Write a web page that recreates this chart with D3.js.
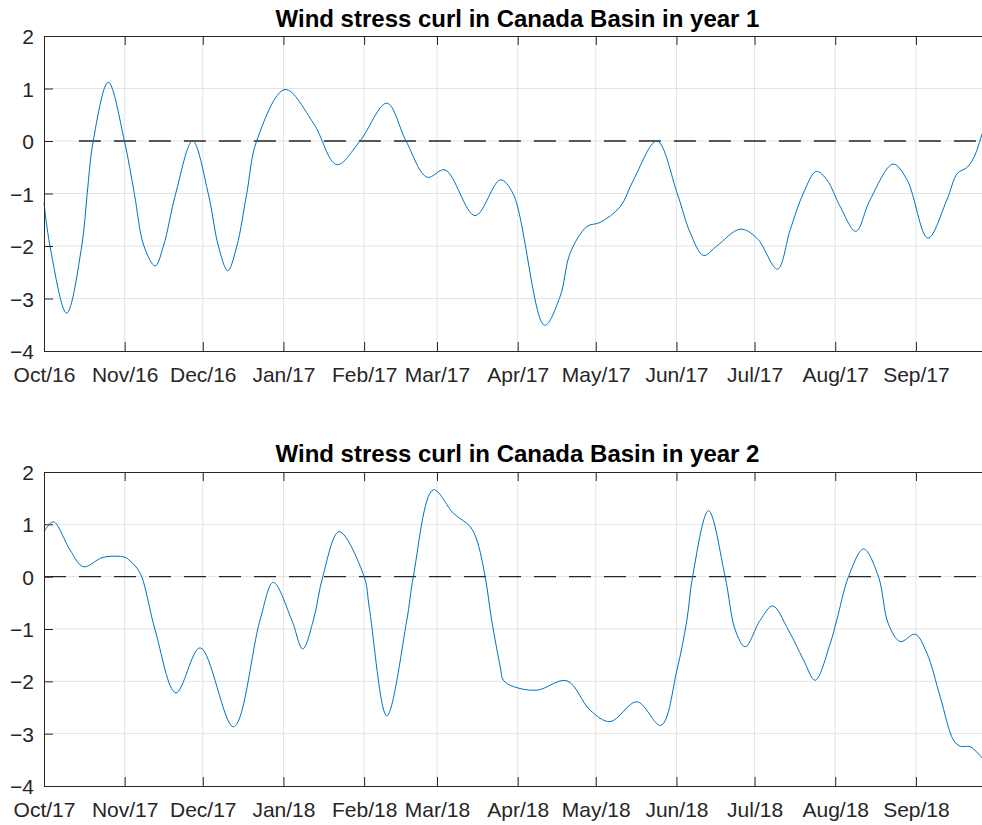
<!DOCTYPE html>
<html>
<head>
<meta charset="utf-8">
<script src="https://cdn.jsdelivr.net/npm/d3@7"></script>
<style>
  html, body { margin: 0; padding: 0; background: #fff; }
  svg { display: block; }
  text { font-family: "Liberation Sans", Arial, Helvetica, sans-serif; }
</style>
</head>
<body>
<svg id="chart" width="982" height="825"></svg>
<script>
// ---------------- DATA ----------------
const titles = ["Wind stress curl in Canada Basin in year 1", "Wind stress curl in Canada Basin in year 2"];
const yearStarts = ["2016-10-01", "2017-10-01"];
const yTicks = [-4, -3, -2, -1, 0, 1, 2];

// day offsets from the 1 October start of each year, and curl values
const days1 = [0, 2.3, 8.7, 14.5, 16.6, 18.9, 24.7, 30.9, 34.7, 38.4, 42.7, 45.9, 50.6, 57.1, 63.1, 67.0, 70.6, 74.1, 77.9, 81.7,
  92.6, 103.5, 112.5, 121.4, 131.7, 139.1, 147.2, 154.1, 165.6, 175.3, 180.2, 192.3, 198.3, 202.2,
  208.6, 213.7, 221.4, 226.5, 235.5, 243.3, 248.3, 253.4, 258.5, 267.5, 273.9, 281.8, 286.7, 291.8,
  296.7, 300.8, 305.9, 311.9, 317.4, 326.2, 331.6, 339.6, 346.9, 350.9, 354.7, 357.4, 360.5];
const curl1 = [-1.18, -2.0, -3.28, -2.0, -1.0, 0.0, 1.12, 0.0, -1.0, -2.0, -2.38, -2.0, -1.0, 0.0, -1.0, -2.0, -2.47, -2.0, -1.0, 0.0,
  0.98, 0.34, -0.45, 0.0, 0.72, 0.0, -0.69, -0.55, -1.42, -0.74, -1.0, -3.51, -2.96, -2.13,
  -1.63, -1.55, -1.25, -0.74, 0.0, -1.0, -1.75, -2.18, -2.0, -1.68, -1.85, -2.44, -1.69, -0.99,
  -0.58, -0.74, -1.25, -1.72, -1.12, -0.44, -0.74, -1.85, -1.12, -0.62, -0.5, -0.3, 0.15];

const days2 = [0, 3.6, 10.0, 15.1, 22.8, 31.1, 33.1, 36.9, 42.7, 50.7, 60.0, 72.8, 83.0, 88.1, 95.2,
  99.4, 103.5, 107.1, 113.4, 123.0, 125.0, 131.7, 139.4, 141.9, 149.6, 157.3, 163.7, 166.3, 169.5,
  172.0, 175.3, 176.5, 180.4, 189.3, 200.9, 209.8, 217.5, 227.8, 237.0, 243.2, 247.0, 249.2, 255.3,
  261.7, 265.6, 269.4, 275.2, 280.0, 286.0, 291.8, 296.3, 302.1, 304.6, 309.1, 314.9, 320.6, 324.4,
  329.0, 334.7, 339.2, 344.3, 349.4, 352.0, 355.9, 360.5];
const curl2 = [0.86, 1.05, 0.51, 0.19, 0.37, 0.37, 0.3, 0.07, -1.02, -2.22, -1.36, -2.87, -0.83, -0.11, -0.83,
  -1.38, -0.83, 0.0, 0.86, 0.0, -0.6, -2.66, -0.83, 0.0, 1.66, 1.21, 0.96, 0.70, 0.0,
  -0.83, -1.72, -1.98, -2.10, -2.17, -1.99, -2.55, -2.77, -2.39, -2.84, -1.78, -0.83, 0.0, 1.26,
  0.0, -1.02, -1.34, -0.83, -0.56, -1.02, -1.59, -1.98, -1.27, -0.83, 0.0, 0.53, 0.0, -0.9,
  -1.24, -1.10, -1.46, -2.29, -3.12, -3.24, -3.25, -3.47];

// dashed zero reference line start (day offset)
const zeroStart = [13.4, 0];

// ---------------- LAYOUT ----------------
const panels = [
  { top: 36, bottom: 351, titleY: 26.5, days: days1, vals: curl1 },
  { top: 472, bottom: 786, titleY: 462, days: days2, vals: curl2 }
];
const left = 44, right = 994;
const svg = d3.select("#chart");
svg.append("rect").attr("width", 982).attr("height", 825).attr("fill", "#fff");

const axisColor = "#262626";
const gridColor = "#e3e3e3";
const fmt = d3.utcFormat("%b/%y");

panels.forEach((p, i) => {
  const start = d3.utcParse("%Y-%m-%d")(yearStarts[i]);
  const end = d3.utcYear.offset(start, 1);
  const x = d3.scaleUtc().domain([start, end]).range([left, right]);
  const y = d3.scaleLinear().domain([-4, 2]).range([p.bottom, p.top]);
  const months = d3.utcMonth.range(start, end);
  const g = svg.append("g");

  // grid
  g.append("g").selectAll("line").data(months.slice(1)).join("line")
    .attr("x1", d => x(d)).attr("x2", d => x(d))
    .attr("y1", p.top).attr("y2", p.bottom)
    .attr("stroke", gridColor).attr("stroke-width", 1);
  g.append("g").selectAll("line").data(yTicks.slice(1, -1)).join("line")
    .attr("x1", left).attr("x2", right)
    .attr("y1", d => y(d)).attr("y2", d => y(d))
    .attr("stroke", gridColor).attr("stroke-width", 1);

  // zero dashed line
  const zx0 = x(new Date(start.getTime() + zeroStart[i] * 864e5));
  g.append("line")
    .attr("x1", zx0).attr("x2", right)
    .attr("y1", y(0)).attr("y2", y(0))
    .attr("stroke", axisColor).attr("stroke-width", 1.3)
    .attr("stroke-dasharray", "22,13");

  // data line
  const pts = p.days.map((d, k) => [new Date(start.getTime() + d * 864e5), p.vals[k]]);
  const line = d3.line().x(d => x(d[0])).y(d => y(d[1])).curve(d3.curveCatmullRom.alpha(0.5));
  g.append("path").datum(pts)
    .attr("d", line)
    .attr("fill", "none").attr("stroke", "#0072BD").attr("stroke-width", 1);

  // axes
  const xb = d3.axisBottom(x).tickValues(months).tickFormat(fmt).tickSizeInner(-9).tickSizeOuter(0).tickPadding(16);
  const gx = g.append("g").attr("transform", `translate(0,${p.bottom})`).call(xb);
  const xt = d3.axisTop(x).tickValues(months).tickFormat("").tickSizeInner(-9).tickSizeOuter(0);
  const gxt = g.append("g").attr("transform", `translate(0,${p.top})`).call(xt);
  const yl = d3.axisLeft(y).tickValues(yTicks).tickFormat(d3.format("d")).tickSizeInner(-9).tickSizeOuter(0).tickPadding(10);
  const gy = g.append("g").attr("transform", `translate(${left},0)`).call(yl);

  [gx, gxt, gy].forEach(a => {
    a.select(".domain").attr("stroke", axisColor).attr("stroke-width", 1);
    a.selectAll(".tick line").attr("stroke", axisColor).attr("stroke-width", 1);
    a.selectAll("text").attr("fill", axisColor).style("font-size", "21px")
      .style("font-family", '"Liberation Sans", Arial, sans-serif');
  });
  gy.selectAll("text").attr("dy", "0.36em");
  gx.selectAll("text").attr("dy", "0.72em");

  // title
  svg.append("text")
    .attr("x", 517.5).attr("y", p.titleY)
    .attr("text-anchor", "middle")
    .style("font-size", "24px").style("font-weight", "bold")
    .attr("fill", "#000")
    .text(titles[i]);
});
</script>
</body>
</html>
